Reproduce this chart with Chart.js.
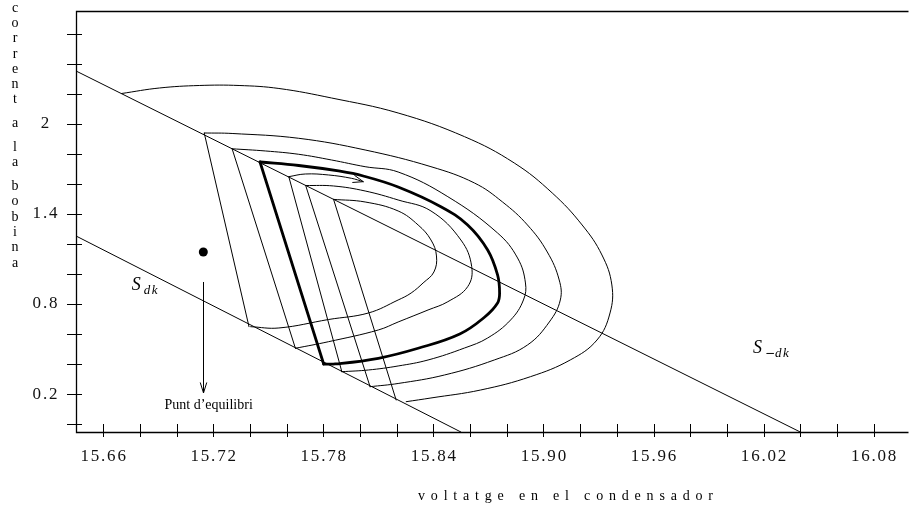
<!DOCTYPE html>
<html><head><meta charset="utf-8">
<script src="https://cdn.jsdelivr.net/npm/chart.js@4.4.1/dist/chart.umd.min.js"></script>
<style>html,body{margin:0;padding:0;background:#fff;}#wrap{width:913px;height:507px;}</style>
</head><body><div id="wrap"><canvas id="c" width="913" height="507"></canvas></div>
<script>
// ---- axis ticks ----
const xTicks = [15.66,15.68,15.70,15.72,15.74,15.76,15.78,15.80,15.82,15.84,15.86,15.88,15.90,15.92,15.94,15.96,15.98,16.00,16.02,16.04,16.06,16.08];
const xLabelValues = [15.66,15.72,15.78,15.84,15.90,15.96,16.02,16.08];
const xLabels = ['15.66','15.72','15.78','15.84','15.90','15.96','16.02','16.08'];
const yTicks = [0,0.2,0.4,0.6,0.8,1.0,1.2,1.4,1.6,1.8,2.0,2.2,2.4,2.6];
const yLabelValues = [0.2,0.8,1.4,2];
const yLabels = ['0.2','0.8','1.4','2'];
const xTitle = 'voltatge en el condensador';
const yTitle = 'corrent a la bobina';

// ---- switching lines ----
const lineSminusDk = [[15.6452,2.3508],[16.0400,-0.052]];
const lineSdk = [[15.6452,1.2526],[15.8550,-0.052]];

// ---- trajectory arcs (voltage, current) ----
const arc1 = [[15.6701,2.2010],[15.6907,2.2376],[15.7124,2.2542],[15.7341,2.2542],[15.7558,2.2343],[15.7845,2.1710],[15.8208,2.0712],[15.8570,1.9135],[15.8841,1.7384],[15.9048,1.5388],[15.9211,1.3258],[15.9319,1.1261],[15.9373,0.9265],[15.9363,0.7401],[15.9292,0.5604],[15.9146,0.4273],[15.8929,0.3161],[15.8658,0.2276],[15.8387,0.1744],[15.8252,0.1498]];
const arc2 = [[15.7151,1.9381],[15.7303,1.9348],[15.7666,1.9028],[15.8028,1.8250],[15.8387,1.7138],[15.8624,1.6053],[15.8777,1.4789],[15.8913,1.3258],[15.9021,1.1461],[15.9086,0.9597],[15.9092,0.8266],[15.9032,0.6802],[15.8913,0.5271],[15.8732,0.4273],[15.8461,0.3275],[15.8208,0.2709],[15.8055,0.2496]];
const arc3 = [[15.7303,1.8329],[15.7486,1.8183],[15.7666,1.7963],[15.7845,1.7584],[15.8028,1.7138],[15.8208,1.6785],[15.8479,1.5141],[15.8750,1.2725],[15.8859,1.1062],[15.8902,0.9398],[15.8891,0.8266],[15.8821,0.6935],[15.8696,0.5737],[15.8570,0.5071],[15.8371,0.4273],[15.8208,0.3874],[15.8046,0.3607],[15.7901,0.3494]];
const arc5 = [[15.7612,1.6473],[15.7702,1.6652],[15.7829,1.6586],[15.7953,1.6366],[15.8018,1.6140]];
const arc6 = [[15.7704,1.5887],[15.7856,1.5854],[15.8028,1.5521],[15.8208,1.4922],[15.8387,1.4190],[15.8550,1.2260],[15.8609,1.0483],[15.8587,0.9151],[15.8479,0.8153],[15.8371,0.7601],[15.8208,0.6802],[15.8100,0.6270],[15.7829,0.5491],[15.7648,0.5052]];
const arc7 = [[15.7856,1.4962],[15.8028,1.4789],[15.8208,1.4190],[15.8317,1.3258],[15.8387,1.2260],[15.8417,1.1195],[15.8403,1.0130],[15.8344,0.9398],[15.8279,0.8732],[15.8208,0.8266],[15.8046,0.7401],[15.7829,0.6968],[15.7558,0.6403],[15.7404,0.6489]];
// ---- limit cycle ----
const limitArc = [[15.7455,1.7451],[15.7666,1.7218],[15.7883,1.6852],[15.8018,1.6519],[15.8208,1.5787],[15.8441,1.4476],[15.8587,1.3258],[15.8696,1.1594],[15.8750,0.9930],[15.8761,0.8732],[15.8750,0.8066],[15.8680,0.7135],[15.8544,0.6003],[15.8317,0.5052],[15.8100,0.4386],[15.7865,0.4007],[15.7802,0.4007]];
const limitJump = [[15.7455,1.7451],[15.7802,0.4007]];
// ---- straight jumps (top, bottom) ----
const jump1 = [[15.7151,1.9381],[15.7395,0.6489]];
const jump2 = [[15.7303,1.8329],[15.7648,0.5052]];
const jump4 = [[15.7612,1.6473],[15.7901,0.3494]];
const jump5 = [[15.7704,1.5887],[15.8055,0.2496]];
const jump6 = [[15.7856,1.4962],[15.8197,0.1611]];
// ---- equilibrium & annotations ----
const equilibrium = [[15.7146,1.1461]];
const eqArrow = [[15.7146,0.9464],[15.7146,0.2077]];
const eqLabelPos = [15.7175,0.1272];
const labelSdkPos = [15.6756,0.9331];
const labelSmdkPos = [16.0143,0.5138];

const pts = a => a.map(([x,y]) => ({x,y}));
const ds = (data, w, tension) => ({data: pts(data), showLine: true, borderColor: '#000', backgroundColor: '#000', borderWidth: w, pointRadius: 0, pointHoverRadius: 0, tension: tension, fill: false, borderCapStyle: 'round', borderJoinStyle: 'round'});

const datasets = [
  ds(lineSminusDk, 1, 0), ds(lineSdk, 1, 0),
  ds(arc1, 1, 0.4), ds(arc2, 1, 0.4), ds(arc3, 1, 0.4), ds(arc5, 1, 0.4), ds(arc6, 1, 0.4), ds(arc7, 1, 0.4),
  ds(jump1, 1, 0), ds(jump2, 1, 0), ds(jump4, 1, 0), ds(jump5, 1, 0), ds(jump6, 1, 0),
  ds(limitArc, 2.8, 0.4), ds(limitJump, 2.8, 0),
  {data: pts(equilibrium), showLine: false, pointRadius: 4.5, pointBackgroundColor: '#000', pointBorderColor: '#000', pointBorderWidth: 0}
];

function spaced(ctx, str, x, y, sp, align) {
  const ws = [...str].map(ch => ctx.measureText(ch).width);
  const total = ws.reduce((s,w)=>s+w,0) + sp*(str.length-1);
  let cx = align === 'center' ? x - total/2 : (align === 'right' ? x - total : x);
  ctx.textAlign = 'left';
  [...str].forEach((ch,i) => { ctx.fillText(ch, cx, y); cx += ws[i] + sp; });
  return total;
}
function arrowHead(ctx, tx, ty, fx, fy, len, ang) {
  const a = Math.atan2(ty-fy, tx-fx);
  ctx.beginPath();
  ctx.moveTo(tx - len*Math.cos(a-ang), ty - len*Math.sin(a-ang));
  ctx.lineTo(tx, ty);
  ctx.lineTo(tx - len*Math.cos(a+ang), ty - len*Math.sin(a+ang));
  ctx.stroke();
}

const decor = {
  id: 'decor',
  afterDatasetsDraw(chart) {
    const {ctx, chartArea: a, scales: {x, y}} = chart;
    ctx.save();
    ctx.strokeStyle = '#000'; ctx.fillStyle = '#000';
    // frame
    ctx.lineWidth = 1.3;
    ctx.beginPath();
    ctx.moveTo(a.right, a.top + 0.5); ctx.lineTo(a.left + 0.5, a.top + 0.5);
    ctx.lineTo(a.left + 0.5, a.bottom + 0.5); ctx.lineTo(a.right, a.bottom + 0.5);
    ctx.stroke();
    // tick marks crossing the axes
    ctx.lineWidth = 1;
    ctx.beginPath();
    xTicks.forEach(v => { const p = Math.round(x.getPixelForValue(v)) + 0.5; ctx.moveTo(p, a.bottom - 8); ctx.lineTo(p, a.bottom + 5); });
    yTicks.forEach(v => { const p = Math.round(y.getPixelForValue(v)) + 0.5; ctx.moveTo(a.left - 9, p); ctx.lineTo(a.left + 6, p); });
    ctx.stroke();
    // tick labels
    ctx.font = '17px "Liberation Serif", serif';
    ctx.textBaseline = 'middle';
    ctx.fillStyle = '#111';
    xLabelValues.forEach((v,i) => spaced(ctx, xLabels[i], x.getPixelForValue(v), a.bottom + 25, 1.8, 'center'));
    yLabelValues.forEach((v,i) => spaced(ctx, yLabels[i], 45, y.getPixelForValue(v), 1.8, 'center'));
    // x title
    ctx.fillStyle = '#000';
    ctx.font = '14px "Liberation Serif", serif';
    const w0 = [...xTitle].reduce((s,ch)=>s+ctx.measureText(ch).width,0);
    const sp = (295 - w0) / (xTitle.length - 1);
    spaced(ctx, xTitle, 418, 496, sp, 'left');
    // y title stacked letters
    ctx.textAlign = 'center';
    ctx.font = '14px "Liberation Serif", serif';
    let yy = 8;
    [...yTitle].forEach(ch => {
      if (ch === ' ') { yy += 8.5; return; }
      ctx.fillText(ch, 15, yy); yy += 15.3;
    });
    // switching line labels
    ctx.textBaseline = 'alphabetic';
    ctx.textAlign = 'left';
    let px = x.getPixelForValue(labelSdkPos[0]), py = y.getPixelForValue(labelSdkPos[1]);
    ctx.font = 'italic 18px "Liberation Serif", serif';
    ctx.fillText('S', px, py + 6);
    ctx.font = 'italic 13px "Liberation Serif", serif';
    spaced(ctx, 'dk', px + 12, py + 10, 1.5, 'left');
    px = x.getPixelForValue(labelSmdkPos[0]); py = y.getPixelForValue(labelSmdkPos[1]);
    ctx.font = 'italic 18px "Liberation Serif", serif';
    ctx.fillText('S', px, py + 6);
    ctx.font = '12px "DejaVu Sans", sans-serif';
    ctx.fillText('\u2212', px + 12, py + 10);
    ctx.font = 'italic 13px "Liberation Serif", serif';
    spaced(ctx, 'dk', px + 22, py + 10, 1.5, 'left');
    // equilibrium arrow and label
    ctx.lineWidth = 1;
    const ax = Math.round(x.getPixelForValue(eqArrow[0][0])) + 0.5;
    const ay1 = y.getPixelForValue(eqArrow[0][1]), ay2 = y.getPixelForValue(eqArrow[1][1]);
    ctx.beginPath(); ctx.moveTo(ax, ay1); ctx.lineTo(ax, ay2); ctx.stroke();
    arrowHead(ctx, ax, ay2, ax, ay1, 11, 0.3);
    ctx.font = '14px "Liberation Serif", serif';
    ctx.textAlign = 'center'; ctx.textBaseline = 'middle';
    ctx.fillText('Punt d\u2019equilibri', x.getPixelForValue(eqLabelPos[0]), y.getPixelForValue(eqLabelPos[1]));
    // direction arrow on the trajectory
    const n = arc5.length;
    arrowHead(ctx, x.getPixelForValue(arc5[n-1][0]), y.getPixelForValue(arc5[n-1][1]),
              x.getPixelForValue(arc5[n-2][0]), y.getPixelForValue(arc5[n-2][1]), 11, 0.35);
    ctx.restore();
  }
};

new Chart(document.getElementById('c'), {
  type: 'scatter',
  data: {datasets},
  options: {
    responsive: false, animation: false, devicePixelRatio: 1,
    layout: {padding: {left: 76, top: 11, right: 0, bottom: 75}},
    plugins: {legend: {display: false}, tooltip: {enabled: false}},
    scales: {
      x: {type: 'linear', min: 15.6452, max: 16.099, display: false},
      y: {type: 'linear', min: -0.052, max: 2.75, display: false}
    },
    elements: {line: {capBezierPoints: true}}
  },
  plugins: [decor]
});
</script></body></html>
